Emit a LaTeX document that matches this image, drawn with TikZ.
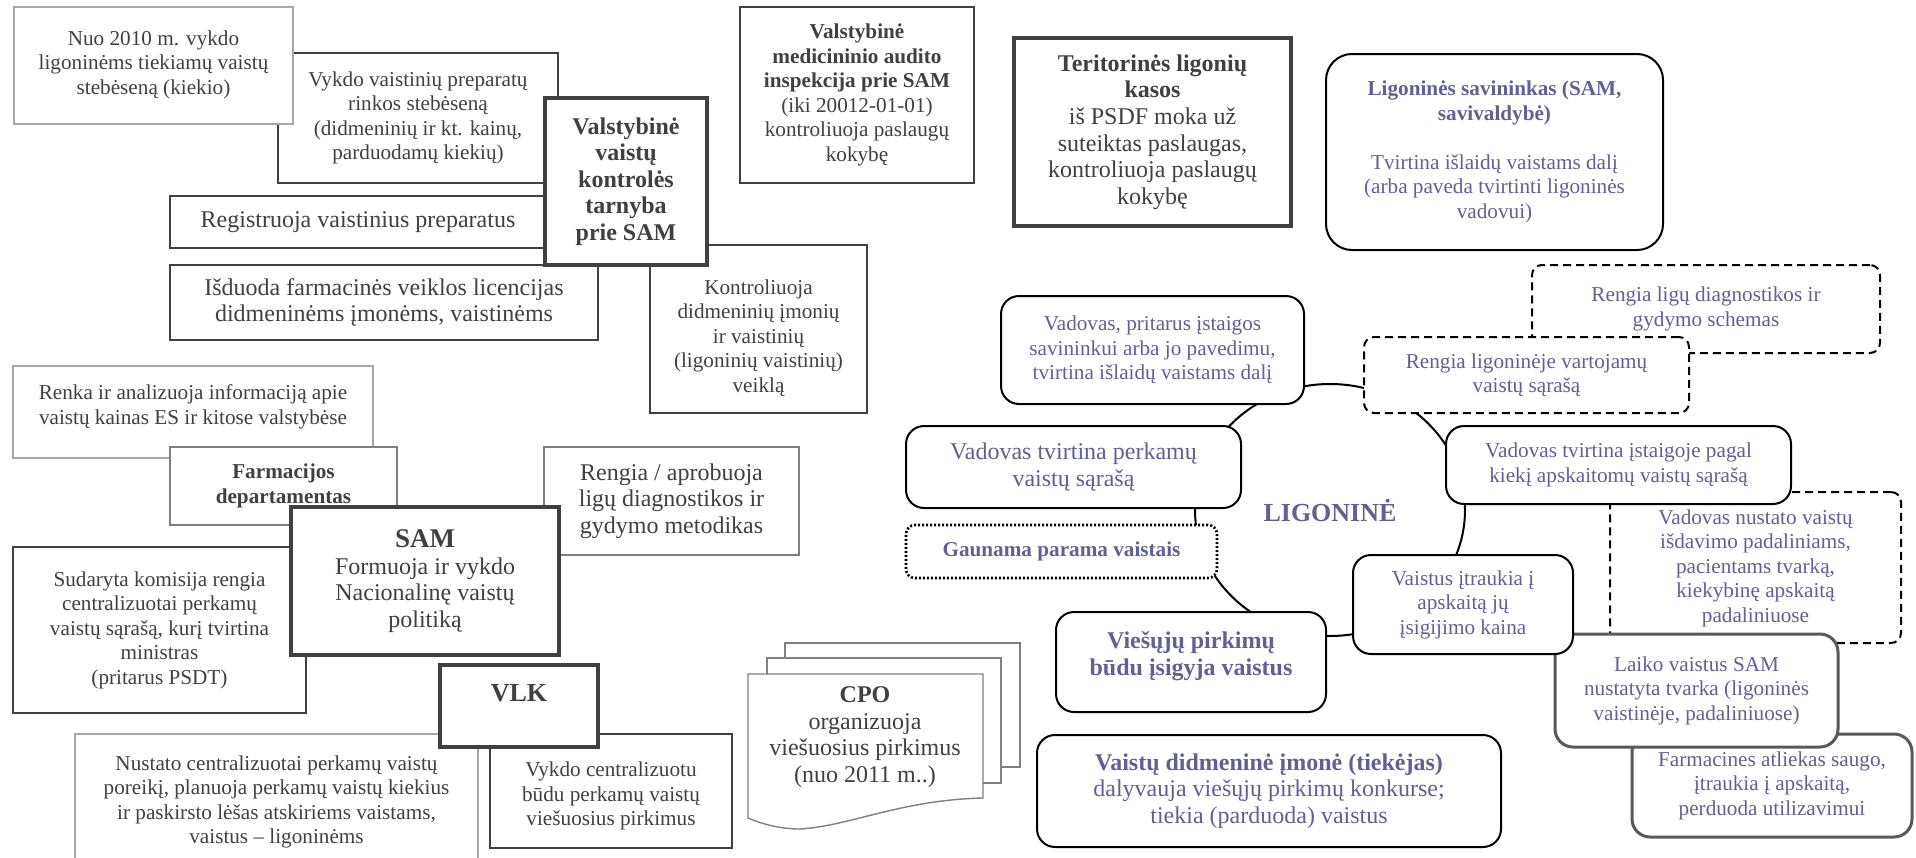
\documentclass[tikz,border=0pt]{standalone}
\usepackage{fontspec}
\setmainfont{Liberation Serif}
\usetikzlibrary{shapes.geometric}
\definecolor{txtgray}{RGB}{64,64,64}
\definecolor{slate}{RGB}{96,96,150}
\definecolor{linelight}{RGB}{166,166,166}
\definecolor{linemid}{RGB}{127,127,127}
\definecolor{linedark}{RGB}{64,64,64}
\definecolor{linekeep}{RGB}{89,89,89}
\newcommand\smalltxt{\fontsize{10.6}{12.25}\selectfont}
\newcommand\normtxt{\fontsize{12}{13.3}\selectfont}
\newcommand\bigtxt{\fontsize{13.5}{15}\selectfont}
\begin{document}
\begin{tikzpicture}[x=0.5pt, y=-0.5pt,
  sz/.style 2 args={minimum width=#1*0.5pt, minimum height=#2*0.5pt},
  box/.style={draw, fill=white, align=center, inner sep=2pt, text=txtgray, font=\smalltxt},
  thinbox/.style={box, draw=linelight, line width=0.6pt},
  midbox/.style={box, draw=linemid, line width=0.7pt},
  darkbox/.style={box, draw=linedark, line width=1.2pt},
  heavybox/.style={box, draw=linedark, line width=1.7pt},
  hospbox/.style={box, draw=black, line width=1pt, rounded corners=9pt, text=slate},
  dashbox/.style={hospbox, rounded corners=5pt, dash pattern=on 4pt off 2.5pt},
  dotbox/.style={hospbox, rounded corners=4.5pt, line width=1.3pt, dash pattern=on 1pt off 1pt},
  keepbox/.style={hospbox, draw=linekeep, line width=1.5pt},
  page/.style={draw=linemid, line width=0.7pt, fill=white}]
\useasboundingbox (0,0) rectangle (1916,857);

\node[darkbox, sz={280}{130}] (rinka) at (418,118) {Vykdo vaistinių preparatų\\rinkos stebėseną\\(didmeninių ir kt. kainų,\\parduodamų kiekių)};
\node[thinbox, sz={279}{117}] (stebesena) at (153.5,65.5) {Nuo 2010 m. vykdo\\ligoninėms tiekiamų vaistų\\stebėseną (kiekio)\\[-9pt]\mbox{}};
\node[darkbox, sz={376}{52}, font=\normtxt] (registruoja) at (358,222) {Registruoja vaistinius preparatus};
\node[darkbox, sz={428}{75}, font=\normtxt] (licencijos) at (384,302.5) {Išduoda farmacinės veiklos licencijas\\didmeninėms įmonėms, vaistinėms};
\node[darkbox, sz={217}{168}] (kontrole) at (758.5,329) {\mbox{}\\[4pt]Kontroliuoja\\didmeninių įmonių\\ir vaistinių\\(ligoninių vaistinių)\\veiklą};
\node[heavybox, sz={162}{167}, font=\normtxt\bfseries] (vvkt) at (626,181.5) {Valstybinė\\vaistų\\kontrolės\\tarnyba\\prie SAM};
\node[darkbox, sz={234}{176}, line width=1.3pt] (vmai) at (857,95) {\textbf{Valstybinė}\\\textbf{medicininio audito}\\\textbf{inspekcija prie SAM}\\(iki 20012-01-01)\\kontroliuoja paslaugų\\kokybę};
\node[heavybox, sz={277}{188}, font=\normtxt] (tlk) at (1152.5,132) {\textbf{Teritorinės ligonių}\\\textbf{kasos}\\iš PSDF moka už\\suteiktas paslaugas,\\kontroliuoja paslaugų\\kokybę};

\node[thinbox, sz={360}{92}] (kainos) at (193,412) {Renka ir analizuoja informaciją apie\\vaistų kainas ES ir kitose valstybėse\\[-5pt]\mbox{}};
\node[midbox, sz={227}{78}, font=\smalltxt\bfseries] (fd) at (283.5,486) {Farmacijos\\departamentas};
\node[darkbox, sz={293}{166}, line width=1.3pt] (komisija) at (159.5,630) {Sudaryta komisija rengia\\centralizuotai perkamų\\vaistų sąrašą, kurį tvirtina\\ministras\\(pritarus PSDT)};
\node[midbox, sz={255}{108}, font=\normtxt] (metodikos) at (671.5,501) {Rengia / aprobuoja\\ligų diagnostikos ir\\gydymo metodikas};
\node[heavybox, sz={268}{148}, font=\normtxt] (sam) at (425,581) {{\bigtxt\bfseries SAM}\\Formuoja ir vykdo\\Nacionalinę vaistų\\politiką};
\node[thinbox, sz={403}{136}] (poreikis) at (276.5,802) {Nustato centralizuotai perkamų vaistų\\poreikį, planuoja perkamų vaistų kiekius\\ir paskirsto lėšas atskiriems vaistams,\\vaistus – ligoninėms};
\node[darkbox, sz={242}{114}, line width=1.3pt] (centr) at (611,791) {\mbox{}\\[0pt]Vykdo centralizuotu\\būdu perkamų vaistų\\viešuosius pirkimus};
\node[heavybox, sz={158}{82}, font=\fontsize{13}{15}\selectfont\bfseries] (vlk) at (519,706) {VLK\\[-2pt]\mbox{}};

\draw[page] (785,643) rectangle (1020,767);
\draw[page] (767,658) rectangle (1001,783);
\draw[page] (748,674) -- (983,674) -- (983,798) .. controls (900,800) and (850,826) .. (800,829) .. controls (780,829) and (762,824) .. (748,818) -- cycle;
\node[align=center, text=txtgray, font=\normtxt] (cpo) at (865,737) {\textbf{CPO}\\organizuoja\\viešuosius pirkimus\\(nuo 2011 m..)};

\node[ellipse, draw, line width=1pt, sz={270}{252}, inner sep=0pt, text=slate, font=\fontsize{13}{15}\selectfont\bfseries] (ligonine) at (1330,510) {LIGONINĖ};
\node[hospbox, sz={337}{196}, rounded corners=13pt] (savininkas) at (1494.5,152) {\textbf{Ligoninės savininkas (SAM,}\\\textbf{savivaldybė)}\\[12.25pt]Tvirtina išlaidų vaistams dalį\\(arba paveda tvirtinti ligoninės\\vadovui)};
\node[dashbox, sz={348}{88}] (schemos) at (1706,309) {Rengia ligų diagnostikos ir\\gydymo schemas};
\node[dashbox, sz={325}{76}] (sarasas) at (1526.5,375) {Rengia ligoninėje vartojamų\\vaistų sąrašą};
\node[hospbox, sz={303}{108}] (islaidos) at (1152.5,350) {Vadovas, pritarus įstaigos\\savininkui arba jo pavedimu,\\tvirtina išlaidų vaistams dalį};
\node[hospbox, sz={335}{82}, font=\normtxt] (perkami) at (1073.5,467) {Vadovas tvirtina perkamų\\vaistų sąrašą};
\node[dotbox, sz={311}{53}, font=\smalltxt\bfseries] (parama) at (1061.5,551.5) {Gaunama parama vaistais};
\node[dashbox, sz={291}{151}] (isdavimas) at (1755.5,567.5) {\mbox{}\\[-4.25pt]Vadovas nustato vaistų\\išdavimo padaliniams,\\pacientams tvarką,\\kiekybinę apskaitą\\padaliniuose};
\node[hospbox, sz={345}{78}] (apskaitomi) at (1618.5,465) {Vadovas tvirtina įstaigoje pagal\\kiekį apskaitomų vaistų sąrašą};
\node[keepbox, sz={280}{103}] (atliekos) at (1772,785.5) {Farmacines atliekas saugo,\\įtraukia į apskaitą,\\perduoda utilizavimui};
\node[keepbox, sz={283}{113}] (laikymas) at (1696.5,690.5) {Laiko vaistus SAM\\nustatyta tvarka (ligoninės\\vaistinėje, padaliniuose)};
\node[hospbox, sz={220}{99}] (apskaita) at (1463,604.5) {Vaistus įtraukia į\\apskaitą jų\\įsigijimo kaina};
\node[hospbox, sz={270}{100}, font=\normtxt\bfseries] (pirkimai) at (1191,662) {Viešųjų pirkimų\\būdu įsigyja vaistus\\[-5pt]\mbox{}};
\node[hospbox, sz={464}{112}, font=\normtxt] (tiekejas) at (1269,791) {\textbf{Vaistų didmeninė įmonė (tiekėjas)}\\dalyvauja viešųjų pirkimų konkurse;\\tiekia (parduoda) vaistus};
\end{tikzpicture}
\end{document}
